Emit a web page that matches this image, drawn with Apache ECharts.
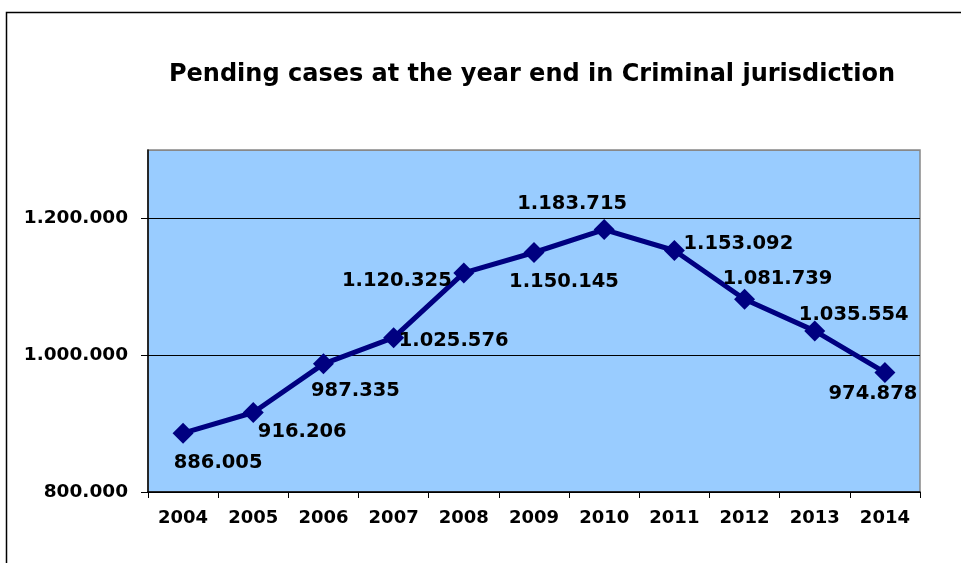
<!DOCTYPE html>
<html><head><meta charset="utf-8">
<script src="https://cdn.jsdelivr.net/npm/echarts@6/dist/echarts.min.js"></script>
<style>html,body{margin:0;padding:0;background:#fff}#c{width:961px;height:563px}</style>
</head><body><div id="c"></div>
<script>
const titleText = "Pending cases at the year end in Criminal jurisdiction";
const years = ["2004","2005","2006","2007","2008","2009","2010","2011","2012","2013","2014"];
const pending = [886005, 916206, 987335, 1025576, 1120325, 1150145, 1183715, 1153092, 1081739, 1035554, 974878];
// label offsets (styling only)
const labelOffsets = [[35,30],[49,19],[32,27],[60,3],[-67,8],[30,29],[-32,-26],[64,-7],[33,-20],[39,-16],[-12,22]];

function fmt(v){ return String(v).replace(/\B(?=(\d{3})+(?!\d))/g, "."); }
const FONT = "DejaVu Sans";
const chart = echarts.init(document.getElementById('c'));
chart.setOption({
  animation: false,
  backgroundColor: '#fff',
  title: { text: titleText, left: 527, top: 58, textAlign: 'center',
    textStyle: { fontFamily: FONT, fontWeight: 'bold', fontSize: 24, color: '#000' } },
  graphic: [{ type: 'rect', shape: { x: 6.5, y: 12.5, width: 1000, height: 600 },
    style: { fill: null, stroke: '#000', lineWidth: 1.5 }, silent: true }],
  grid: { left: 148, right: 41, top: 150, bottom: 71, show: true, backgroundColor: '#99CCFF', borderColor: '#888', borderWidth: 1.5 },
  xAxis: { type: 'category', data: years, boundaryGap: true,
    axisLine: { lineStyle: { color: '#000', width: 1.5 } },
    axisTick: { show: true, length: 6, lineStyle: { color: '#000' } },
    axisLabel: { fontFamily: FONT, fontWeight: 'bold', fontSize: 18, color: '#000', margin: 17 } },
  yAxis: { type: 'value', min: 800000, max: 1300000, interval: 200000,
    axisLine: { show: true, lineStyle: { color: '#000', width: 1.5 } },
    axisTick: { show: true, length: 7, lineStyle: { color: '#000' } },
    splitLine: { show: true, lineStyle: { color: ['#000','#000','#000','#888'], width: 1 } },
    axisLabel: { showMaxLabel: false, fontFamily: FONT, fontWeight: 'bold', fontSize: 18.5, color: '#000', margin: 20, formatter: fmt } },
  series: [{
    type: 'line',
    data: pending.map((v, i) => ({ value: v, label: { offset: labelOffsets[i] } })),
    symbol: 'diamond', symbolSize: 21,
    lineStyle: { color: '#000080', width: 5 },
    itemStyle: { color: '#000080' },
    label: { show: true, position: 'inside', formatter: p => fmt(p.value),
      fontFamily: FONT, fontWeight: 'bold', fontSize: 19.5, color: '#000' }
  }]
});
</script></body></html>
